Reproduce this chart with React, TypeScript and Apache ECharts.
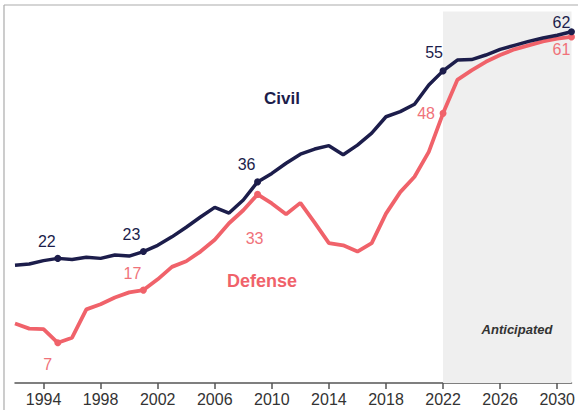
import React, { useEffect, useRef } from "react";
import * as echarts from "echarts";

const years = [
  "1992", "1993", "1994", "1995", "1996", "1997", "1998", "1999", "2000", "2001",
  "2002", "2003", "2004", "2005", "2006", "2007", "2008", "2009", "2010", "2011",
  "2012", "2013", "2014", "2015", "2016", "2017", "2018", "2019", "2020", "2021",
  "2022", "2023", "2024", "2025", "2026", "2027", "2028", "2029", "2030", "2031",
];

const civil = [
  20.8, 21.0, 21.6, 22.0, 21.8, 22.2, 22.0, 22.6, 22.4, 23.2,
  24.3, 25.8, 27.5, 29.3, 31.0, 30.0, 32.3, 35.5, 37.0, 38.8,
  40.4, 41.3, 41.9, 40.3, 42.0, 44.1, 47.0, 47.9, 49.2, 52.6,
  55.1, 57.0, 57.1, 57.9, 58.9, 59.6, 60.3, 60.9, 61.4, 62.0,
];

const defense = [
  10.5, 9.6, 9.5, 7.1, 8.0, 13.0, 13.9, 15.1, 16.0, 16.4,
  18.3, 20.5, 21.5, 23.2, 25.3, 28.2, 30.5, 33.3, 31.7, 29.8,
  31.8, 28.3, 24.7, 24.3, 23.2, 24.7, 29.9, 33.7, 36.4, 40.8,
  47.6, 53.5, 55.2, 56.7, 57.9, 58.9, 59.6, 60.3, 60.8, 61.1,
];

const civilLabelYears = ["1995", "2001", "2009", "2022", "2031"];
const civilLabelTexts = ["22", "23", "36", "55", "62"];
const defenseLabelYears = ["1995", "2001", "2009", "2022", "2031"];
const defenseLabelTexts = ["7", "17", "33", "48", "61"];

const anticipatedStart = "2022";
const anticipatedEnd = "2031";
const tickStartYear = 1994;
const tickStep = 4;

// styling / positions
const civilOffsets = [[-11, -17], [-12, -17], [-11, -17], [-9, -18], [-10, -9]];
const defenseOffsets = [[-10, 22], [-11, -17], [-3, 44], [-17, 0], [-10, 13]];
const CIVIL_COLOR = "#1c1d4b";
const DEFENSE_COLOR = "#f0626a";
const DEFENSE_LABEL_COLOR = "#f0727a";
const FONT = "'Liberation Sans', Arial, sans-serif";

function buildData(
  values: number[],
  labelYears: string[],
  labelTexts: string[],
  offsets: number[][],
  color: string,
  labelColor: string
) {
  return values.map((v, i) => {
    const k = labelYears.indexOf(years[i]);
    if (k < 0) return v;
    return {
      value: v,
      symbol: "circle",
      symbolSize: 7,
      itemStyle: { color },
      label: {
        show: true,
        position: "inside",
        offset: offsets[k],
        formatter: labelTexts[k],
        color: labelColor,
        fontSize: 16,
        fontFamily: FONT,
      },
    };
  });
}

export default function App() {
  const ref = useRef<HTMLDivElement>(null);
  useEffect(() => {
    if (!ref.current) return;
    const chart = echarts.init(ref.current, null, { renderer: "svg" });
    const showTick = (_idx: number, val: string) =>
      (Number(val) - tickStartYear) % tickStep === 0;
    chart.setOption({
      animation: false,
      backgroundColor: "#ffffff",
      grid: { left: 15, right: 4, top: 11.4, bottom: 27, containLabel: false },
      xAxis: {
        type: "category",
        data: years,
        boundaryGap: false,
        axisLine: { show: true, lineStyle: { color: "#555555", width: 1.5 } },
        axisTick: { show: true, interval: showTick, length: 6, lineStyle: { color: "#555555", width: 1.5 } },
        axisLabel: {
          interval: showTick,
          margin: 8,
          fontSize: 16,
          color: "#333333",
          fontFamily: FONT,
        },
        splitLine: { show: false },
      },
      yAxis: {
        type: "value",
        min: 0,
        max: 65.6,
        show: false,
        splitLine: { show: false },
      },
      series: [
        {
          type: "line",
          data: [],
          z: 1,
          silent: true,
          markArea: {
            silent: true,
            itemStyle: { color: "#efefef" },
            data: [[{ xAxis: anticipatedStart }, { xAxis: anticipatedEnd }]],
          },
        },
        {
          name: "Defense",
          type: "line",
          z: 3,
          symbol: "none",
          showSymbol: true,
          lineStyle: { color: DEFENSE_COLOR, width: 3.8 },
          itemStyle: { color: DEFENSE_COLOR },
          data: buildData(defense, defenseLabelYears, defenseLabelTexts, defenseOffsets, DEFENSE_COLOR, DEFENSE_LABEL_COLOR),
        },
        {
          name: "Civil",
          type: "line",
          z: 4,
          symbol: "none",
          showSymbol: true,
          lineStyle: { color: CIVIL_COLOR, width: 3.5 },
          itemStyle: { color: CIVIL_COLOR },
          data: buildData(civil, civilLabelYears, civilLabelTexts, civilOffsets, CIVIL_COLOR, CIVIL_COLOR),
        },
      ],
      graphic: [
        { type: "line", shape: { x1: 4, y1: 5, x2: 578, y2: 5 }, style: { stroke: "#ababab", lineWidth: 1.2 }, silent: true },
        { type: "line", shape: { x1: 4, y1: 5, x2: 4, y2: 410 }, style: { stroke: "#ababab", lineWidth: 1.2 }, silent: true },
        {
          type: "text",
          x: 282,
          y: 98,
          style: { text: "Civil", fill: CIVIL_COLOR, font: `bold 17px ${FONT}`, textAlign: "center", textVerticalAlign: "middle" },
          silent: true,
          z: 10,
        },
        {
          type: "text",
          x: 262,
          y: 281,
          style: { text: "Defense", fill: DEFENSE_COLOR, font: `bold 18px ${FONT}`, textAlign: "center", textVerticalAlign: "middle" },
          silent: true,
          z: 10,
        },
        {
          type: "text",
          x: 517,
          y: 329,
          style: { text: "Anticipated", fill: "#333333", font: `italic bold 13px ${FONT}`, textAlign: "center", textVerticalAlign: "middle" },
          silent: true,
          z: 10,
        },
      ],
    });
    return () => chart.dispose();
  }, []);
  return (
    <div
      ref={ref}
      style={{ position: "absolute", left: 0, top: 0, width: 578, height: 410 }}
    />
  );
}
